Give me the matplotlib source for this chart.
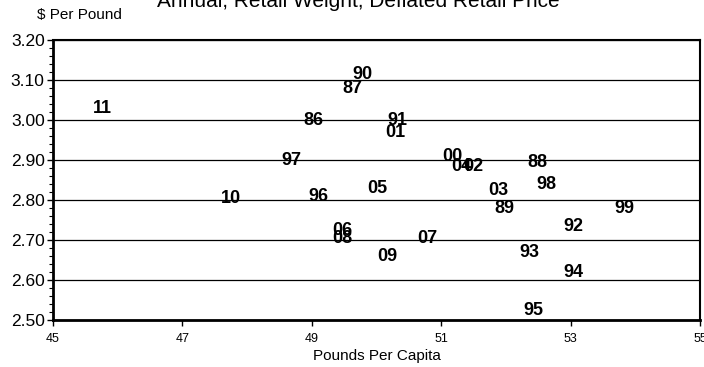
import numpy as np
import matplotlib
matplotlib.use("Agg")
import matplotlib.pyplot as plt
from matplotlib.ticker import MultipleLocator, FormatStrFormatter

plt.rcParams['font.family'] = ['Liberation Sans', 'DejaVu Sans']

# per capita consumption vs deflated retail price, labelled by year
years = ['86', '87', '88', '89', '90', '91', '92', '93', '94', '95',
         '96', '97', '98', '99', '00', '01', '02', '03', '04', '05',
         '06', '07', '08', '09', '10', '11']
pounds = [49.02, 49.62, 52.48, 51.97, 49.78, 50.32, 53.04, 52.36, 53.04, 52.42,
          49.10, 48.69, 52.62, 53.83, 51.17, 50.29, 51.49, 51.88, 51.31, 50.02,
          49.47, 50.78, 49.47, 50.16, 47.75, 45.77]
price = [3.000, 3.080, 2.895, 2.780, 3.115, 3.000, 2.735, 2.670, 2.620, 2.525,
         2.810, 2.900, 2.840, 2.780, 2.910, 2.970, 2.885, 2.825, 2.885, 2.830,
         2.725, 2.705, 2.705, 2.660, 2.805, 3.030]
x_ticks = [45, 47, 49, 51, 53, 55]

fig = plt.figure(figsize=(7.04, 3.67), dpi=100)
ax = fig.add_axes([0.0753, 0.128, 0.919, 0.763])

# no markers, only the year labels sit on the points
ax.scatter(pounds, price, s=0)
for yr, x, y in zip(years, pounds, price):
    ax.text(x, y, yr, ha='center', va='center', fontsize=13,
            fontweight='bold', color='black', zorder=3)

ax.set_xlim(45, 55)
ax.set_ylim(2.50, 3.20)
ax.set_xticks(x_ticks)
ax.yaxis.set_major_locator(MultipleLocator(0.1))
ax.yaxis.set_minor_locator(MultipleLocator(0.02))
ax.yaxis.set_major_formatter(FormatStrFormatter('%.2f'))

ax.grid(axis='y', which='major', color='black', linewidth=0.9)
ax.set_axisbelow(True)

ax.tick_params(axis='y', which='major', labelsize=12.5, length=4, width=1, pad=2)
ax.tick_params(axis='y', which='minor', length=3, width=0.8)
ax.tick_params(axis='x', which='major', labelsize=9, length=4, width=1, pad=5)

for side in ['left', 'bottom']:
    ax.spines[side].set_linewidth(2)
for side in ['top', 'right']:
    ax.spines[side].set_linewidth(1.5)

ax.set_xlabel('Pounds Per Capita', fontsize=11, labelpad=3)

fig.text(37 / 704, 1 - 15 / 367, '$ Per Pound', fontsize=11, ha='left', va='center')
fig.text(358 / 704, 1 - 7 / 367, 'Annual, Retail Weight, Deflated Retail Price',
         fontsize=15, ha='center', va='baseline')

fig.savefig('out.png', dpi=100)
